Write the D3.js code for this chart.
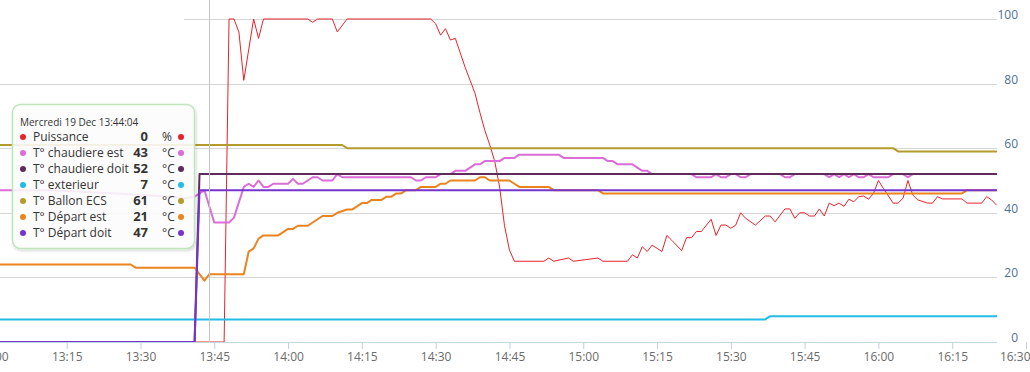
<!DOCTYPE html>
<html>
<head>
<meta charset="utf-8">
<script src="https://cdn.jsdelivr.net/npm/d3@7"></script>
<style>
  html, body { margin: 0; padding: 0; background: #fff; }
  svg { display: block; font-family: "Open Sans", sans-serif; }
</style>
</head>
<body>
<div id="chart"></div>
<script>
// ── Data (time "HH:MM", value) ──────────────────────────────
const puissance = [
  ["12:58",0],["13:47",0],["13:48",100],["13:49",100],["13:50",96],["13:51",81],["13:53",100],["13:54",94],
  ["13:55",100],["14:04",100],["14:05",99],["14:06",100],["14:09",100],["14:10",96],["14:12",100],["14:29",100],
  ["14:30",98.5],["14:31",95],["14:32",97],["14:33",93.5],["14:34",94],["14:35",89.5],["14:36",85],["14:37",81],
  ["14:38",77],["14:39",71],["14:40",65.5],["14:41",61],["14:42",56],["14:43",48],["14:44",36],["14:45",28.5],
  ["14:46",25],["14:52",25],["14:53",26],["14:54",25],["14:57",26],["14:58",25],["15:03",26],["15:04",25],
  ["15:09",25],["15:10",27],["15:11",26],["15:12",29.5],["15:13",28],["15:14",30],["15:16",28],["15:17",33],
  ["15:18",31.5],["15:20",28.3],["15:21",32.3],["15:22",32.3],["15:23",34.2],["15:24",34.2],["15:26",38],["15:27",33],
  ["15:28",36.2],["15:29",36.2],["15:30",35.2],["15:31",36.2],["15:32",40],["15:33",38.3],["15:35",36.2],["15:37",39],
  ["15:38",39],["15:39",37.2],["15:41",41.2],["15:42",41.2],["15:43",38.3],["15:44",40],["15:45",40],["15:46",39],
  ["15:47",39],["15:48",41.2],["15:49",39],["15:50",43],["15:51",42.2],["15:52",43],["15:53",42],["15:54",44.2],
  ["15:55",43.4],["15:56",45],["15:57",45.2],["15:58",44.2],["15:59",46],["16:00",50],["16:01",47.6],["16:03",43],
  ["16:04",43],["16:05",44.5],["16:06",50],["16:07",45.5],["16:08",44],["16:10",43],["16:11",43],["16:12",45],
  ["16:13",44.3],["16:17",44.3],["16:18",43],["16:21",43],["16:22",45],["16:23",44],["16:24",42.4]
];
const chaudiereEst = [
  ["12:58",47],["13:12",47],["13:25",46],["13:36",45],["13:39",44.5],["13:41",45],["13:43",47],["13:45",37],
  ["13:48",37],["13:49",38.5],["13:51",48],["13:52",49],["13:53",48],["13:54",50],["13:55",48],["13:56",48],
  ["13:57",49],["14:00",49],["14:01",50.5],["14:02",49],["14:03",49],["14:05",51],["14:06",51],["14:07",50],
  ["14:09",50],["14:10",52],["14:11",51],["14:25",51],["14:26",50],["14:27",50],["14:28",51],["14:30",51],
  ["14:31",52],["14:33",52],["14:34",53],["14:36",53],["14:37",54],["14:38",55],["14:39",55],["14:40",56],
  ["14:43",56],["14:44",57],["14:46",57],["14:47",58],["14:55",58],["14:56",57],["15:04",57],["15:05",56],
  ["15:06",56],["15:07",55],["15:10",55],["15:11",54],["15:12",53],["15:13",53],["15:14",52],["15:22",52],
  ["15:23",51],["15:26",51],["15:27",52],["15:28",51],["15:29",51],["15:30",52],["15:31",52],["15:32",51],
  ["15:33",51],["15:34",52],["15:40",52],["15:41",51],["15:42",51],["15:43",52],["15:49",52],["15:50",51],
  ["15:51",52],["15:52",51],["15:53",52],["15:54",51],["15:55",52],["15:56",51],["15:57",51],["15:58",52],
  ["15:59",51],["16:02",51],["16:03",52],["16:05",52],["16:06",51],["16:07",52],["16:24",52]
];
const chaudiereDoit = [["12:58",0],["13:41",0],["13:42",52],["16:24",52]];
const exterieur = [["12:58",7],["15:37",7],["15:38",8],["16:24",8]];
const ballonECS = [["12:58",61],["14:11",61],["14:12",60],["16:03",60],["16:04",59],["16:24",59]];
const departEst = [
  ["12:58",24],["13:28",24],["13:29",23],["13:41",23],["13:43",19],["13:44",21],["13:51",21],["13:52",28],
  ["13:53",29],["13:54",32],["13:55",33],["13:58",33],["14:00",35],["14:01",35],["14:02",36],["14:04",36],
  ["14:07",39],["14:09",39],["14:10",40],["14:12",41],["14:13",41],["14:15",43],["14:16",43],["14:17",44],
  ["14:19",44],["14:20",45],["14:21",45],["14:22",46],["14:23",46],["14:24",47],["14:26",47],["14:27",48],
  ["14:30",48],["14:31",49],["14:32",49],["14:33",50],["14:38",50],["14:39",51],["14:40",51],["14:41",50],
  ["14:45",50],["14:46",49],["14:47",48],["14:53",48],["14:54",47],["15:03",47],["15:04",46],["16:17",46],
  ["16:18",47],["16:24",47]
];
const departDoit = [["12:58",0],["13:41",0],["13:42",47],["16:24",47]];

const seriesNames  = ["Puissance", "T° chaudiere est", "T° chaudiere doit", "T° exterieur",
                      "T° Ballon ECS", "T° Départ est", "T° Départ doit"];
const seriesData   = [puissance, chaudiereEst, chaudiereDoit, exterieur, ballonECS, departEst, departDoit];
const seriesColors = ["#e8222a", "#dc6cd6", "#5f2b5b", "#22bde6", "#b59a2c", "#ea841f", "#7634cf"];
const seriesWidths = [1, 2, 2, 2, 2, 2, 2];

// tooltip content
const tooltipTitle  = "Mercredi 19 Dec 13:44:04";
const tooltipTime   = "13:44:04";
const tooltipValues = [0, 43, 52, 7, 61, 21, 47];
const tooltipUnits  = ["%", "°C", "°C", "°C", "°C", "°C", "°C"];

const xDomain = ["13:00", "16:30"];
const yTicks  = [0, 20, 40, 60, 80, 100];

// ── Layout ───────────────────────────────────────────────────
const W = 1030, H = 372;
const plotRight = 997, plotBottom = 342, plotTop = 19;

const parseHM  = d3.timeParse("%H:%M");
const parseHMS = d3.timeParse("%H:%M:%S");
const parseT = s => parseHMS(s) || parseHM(s);

const x = d3.scaleTime()
  .domain(xDomain.map(parseT))
  .range([-7.1, 1026]);
const y = d3.scaleLinear()
  .domain([0, 100])
  .range([plotBottom, plotTop]);

const svg = d3.select("#chart").append("svg")
  .attr("width", W).attr("height", H);

const defs = svg.append("defs");
defs.append("clipPath").attr("id", "plot-clip")
  .append("rect").attr("x", 0).attr("y", 0)
  .attr("width", plotRight).attr("height", plotBottom);
const shadow = defs.append("filter").attr("id", "tip-shadow")
  .attr("x", "-10%").attr("y", "-10%").attr("width", "125%").attr("height", "125%");
shadow.append("feDropShadow")
  .attr("dx", 1).attr("dy", 1.5).attr("stdDeviation", 1.6)
  .attr("flood-color", "#000").attr("flood-opacity", 0.18);

// ── Gridlines ────────────────────────────────────────────────
svg.append("g").selectAll("line")
  .data(yTicks.filter(v => v > 0))
  .join("line")
  .attr("x1", v => v === 100 ? 184 : 0)
  .attr("x2", plotRight)
  .attr("y1", v => Math.round(y(v)) + 0.5)
  .attr("y2", v => Math.round(y(v)) + 0.5)
  .attr("stroke", "#d6d6d6")
  .attr("stroke-width", 1);

// ── Series ───────────────────────────────────────────────────
const line = d3.line()
  .x(d => x(parseT(d[0])))
  .y(d => y(d[1]));

const seriesGroup = svg.append("g").attr("clip-path", "url(#plot-clip)");
seriesData.forEach((data, i) => {
  seriesGroup.append("path")
    .datum(data)
    .attr("d", line)
    .attr("fill", "none")
    .attr("stroke", seriesColors[i])
    .attr("stroke-width", seriesWidths[i])
    .attr("stroke-linejoin", "round")
    .attr("stroke-linecap", "round");
});

// ── Crosshair ────────────────────────────────────────────────
const cx = Math.round(x(parseT(tooltipTime))) - 0.5;
svg.append("line")
  .attr("x1", cx).attr("x2", cx)
  .attr("y1", 0).attr("y2", plotBottom)
  .attr("stroke", "#c4c4c4").attr("stroke-width", 1);

// ── X axis ───────────────────────────────────────────────────
const xAxis = d3.axisBottom(x)
  .ticks(d3.timeMinute.every(15))
  .tickFormat(d3.timeFormat("%H:%M"))
  .tickSize(7)
  .tickPadding(3);

const gx = svg.append("g")
  .attr("transform", `translate(0,${plotBottom})`)
  .call(xAxis);
gx.select(".domain").remove();
gx.selectAll(".tick line").attr("stroke", "#c0d0e0");
gx.selectAll(".tick text")
  .attr("fill", "#6b6b6b")
  .attr("font-size", "12px")
  .attr("font-family", "'Open Sans', sans-serif");
// keep the last label inside the picture
const lastText = gx.selectAll(".tick text").filter((d, i, n) => i === n.length - 1);
lastText.attr("text-anchor", "end").attr("dx", 4);

// axis line on top of series
svg.append("line")
  .attr("x1", 0).attr("x2", plotRight)
  .attr("y1", plotBottom + 0.5).attr("y2", plotBottom + 0.5)
  .attr("stroke", "#c0d8e0").attr("stroke-width", 1);

// ── Y axis (right) ───────────────────────────────────────────
const yAxis = d3.axisRight(y)
  .tickValues(yTicks)
  .tickSize(0)
  .tickPadding(0);
const gy = svg.append("g")
  .attr("transform", "translate(1018,0)")
  .call(yAxis);
gy.select(".domain").remove();
gy.selectAll(".tick text")
  .attr("text-anchor", "end")
  .attr("dy", "-0.05em")
  .attr("fill", "#4d6f96")
  .attr("font-size", "12px")
  .attr("font-family", "'Open Sans', sans-serif");

// ── Tooltip ──────────────────────────────────────────────────
const tip = svg.append("g").attr("transform", "translate(12,104)");
tip.append("rect")
  .attr("x", 0.5).attr("y", 0.5)
  .attr("width", 182).attr("height", 144)
  .attr("rx", 8).attr("ry", 8)
  .attr("fill", "rgba(255,255,255,0.86)")
  .attr("stroke", "#bfe6bb")
  .attr("stroke-width", 1.5)
  .attr("filter", "url(#tip-shadow)");

tip.append("text")
  .attr("x", 8).attr("y", 21.5)
  .attr("font-size", "10px")
  .attr("fill", "#333")
  .text(tooltipTitle);

const rows = tip.selectAll("g.row")
  .data(seriesNames)
  .join("g")
  .attr("class", "row")
  .attr("transform", (d, i) => `translate(0,${33 + i * 16})`);

rows.append("circle")
  .attr("cx", 11).attr("cy", 0).attr("r", 3)
  .attr("fill", (d, i) => seriesColors[i]);
rows.append("text")
  .attr("x", 21).attr("y", 4.3)
  .attr("font-size", "12px").attr("fill", "#333")
  .text(d => d);
rows.append("text")
  .attr("x", 136).attr("y", 4.3)
  .attr("text-anchor", "end")
  .attr("font-size", "13px").attr("font-weight", "bold").attr("fill", "#333")
  .text((d, i) => tooltipValues[i]);
rows.append("text")
  .attr("x", 150).attr("y", 4.3)
  .attr("font-size", "12px").attr("fill", "#333")
  .text((d, i) => tooltipUnits[i]);
rows.append("circle")
  .attr("cx", 169).attr("cy", 0).attr("r", 3)
  .attr("fill", (d, i) => seriesColors[i]);
</script>
</body>
</html>
